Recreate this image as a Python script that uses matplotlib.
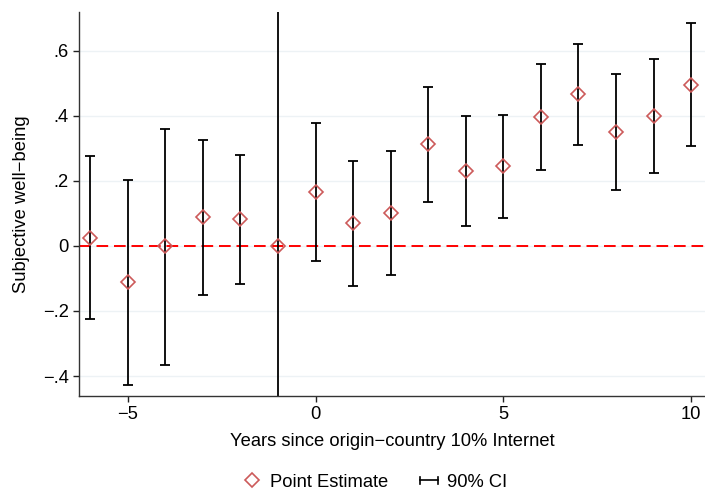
import numpy as np
import matplotlib
matplotlib.use("Agg")
import matplotlib.pyplot as plt
from matplotlib.legend_handler import HandlerBase
from matplotlib.lines import Line2D

plt.rcParams["font.family"] = ["Liberation Sans", "DejaVu Sans"]

years = [-6, -5, -4, -3, -2, -1, 0, 1, 2, 3, 4, 5, 6, 7, 8, 9, 10]
estimate = [0.025, -0.11, 0.0, 0.088, 0.082, 0.0, 0.167, 0.070, 0.102, 0.314,
            0.232, 0.246, 0.397, 0.467, 0.351, 0.399, 0.496]
ci_low = [-0.225, -0.428, -0.366, -0.151, -0.116, 0.0, -0.047, -0.122, -0.088,
          0.136, 0.062, 0.086, 0.233, 0.311, 0.173, 0.224, 0.308]
ci_high = [0.277, 0.203, 0.361, 0.326, 0.279, 0.0, 0.379, 0.261, 0.292, 0.490,
           0.401, 0.404, 0.560, 0.622, 0.529, 0.575, 0.685]

yticks = [-0.4, -0.2, 0, 0.2, 0.4, 0.6]
ytick_labels = ["\u2212.4", "\u2212.2", "0", ".2", ".4", ".6"]
xticks = [-5, 0, 5, 10]
xtick_labels = ["\u22125", "0", "5", "10"]

marker_col = "#cc5a5a"
fs = 13.2


class HandlerCI(HandlerBase):
    # horizontal bar with end caps, like the Stata legend key
    def create_artists(self, legend, orig_handle, xdescent, ydescent, width, height, fontsize, trans):
        y = height / 2 - ydescent
        x0, x1 = -xdescent, -xdescent + width
        h = height * 0.3
        lines = [Line2D([x0, x1], [y, y]),
                 Line2D([x0, x0], [y - h, y + h]),
                 Line2D([x1, x1], [y - h, y + h])]
        for l in lines:
            l.set_color("black")
            l.set_linewidth(1.2)
            l.set_transform(trans)
        return lines


fig = plt.figure(figsize=(7.05, 4.95), dpi=100)
ax = fig.add_axes([0.112, 0.2, 0.888, 0.776])

est = np.array(estimate)
lo = np.array(ci_low)
hi = np.array(ci_high)
mask = hi > lo

ax.axhline(0, color="red", linestyle=(0, (6, 3)), linewidth=1.4, zorder=1)
ax.axvline(-1, color="black", linewidth=1.3, zorder=2)

ax.errorbar(np.array(years)[mask], est[mask],
            yerr=[est[mask] - lo[mask], hi[mask] - est[mask]],
            fmt="none", ecolor="black", elinewidth=1.3, capsize=3.3, capthick=1.3, zorder=3)
ax.plot(years, estimate, linestyle="none", marker="D", markersize=7,
        markerfacecolor="none", markeredgecolor=marker_col, markeredgewidth=1.2, zorder=4)

ax.set_xlim(-6.3, 10.37)
ax.set_ylim(-0.4615, 0.72)
ax.set_yticks(yticks)
ax.set_yticklabels(ytick_labels)
ax.set_xticks(xticks)
ax.set_xticklabels(xtick_labels)
ax.tick_params(labelsize=fs, length=4, width=1, colors="#222222")
ax.tick_params(axis="both", labelcolor="black")
ax.grid(axis="y", color="#edf2f5", linewidth=1.0)
ax.set_axisbelow(True)
for side in ["top", "right"]:
    ax.spines[side].set_visible(False)
for side in ["left", "bottom"]:
    ax.spines[side].set_color("#333333")
    ax.spines[side].set_linewidth(1.0)

ax.set_xlabel("Years since origin\u2212country 10% Internet", fontsize=fs, labelpad=7)
ax.set_ylabel("Subjective well\u2212being", fontsize=fs, labelpad=9)

pt = Line2D([], [], linestyle="none", marker="D", markersize=7,
            markerfacecolor="none", markeredgecolor=marker_col, markeredgewidth=1.2)
ci = object()
fig.legend([pt, ci], ["Point Estimate", "90% CI"], handler_map={ci: HandlerCI()},
           loc="lower center", bbox_to_anchor=(0.532, -0.025), ncol=2, frameon=False,
           fontsize=fs, handlelength=1.0, columnspacing=1.75, handletextpad=0.45)

fig.savefig("out.png", dpi=100)
